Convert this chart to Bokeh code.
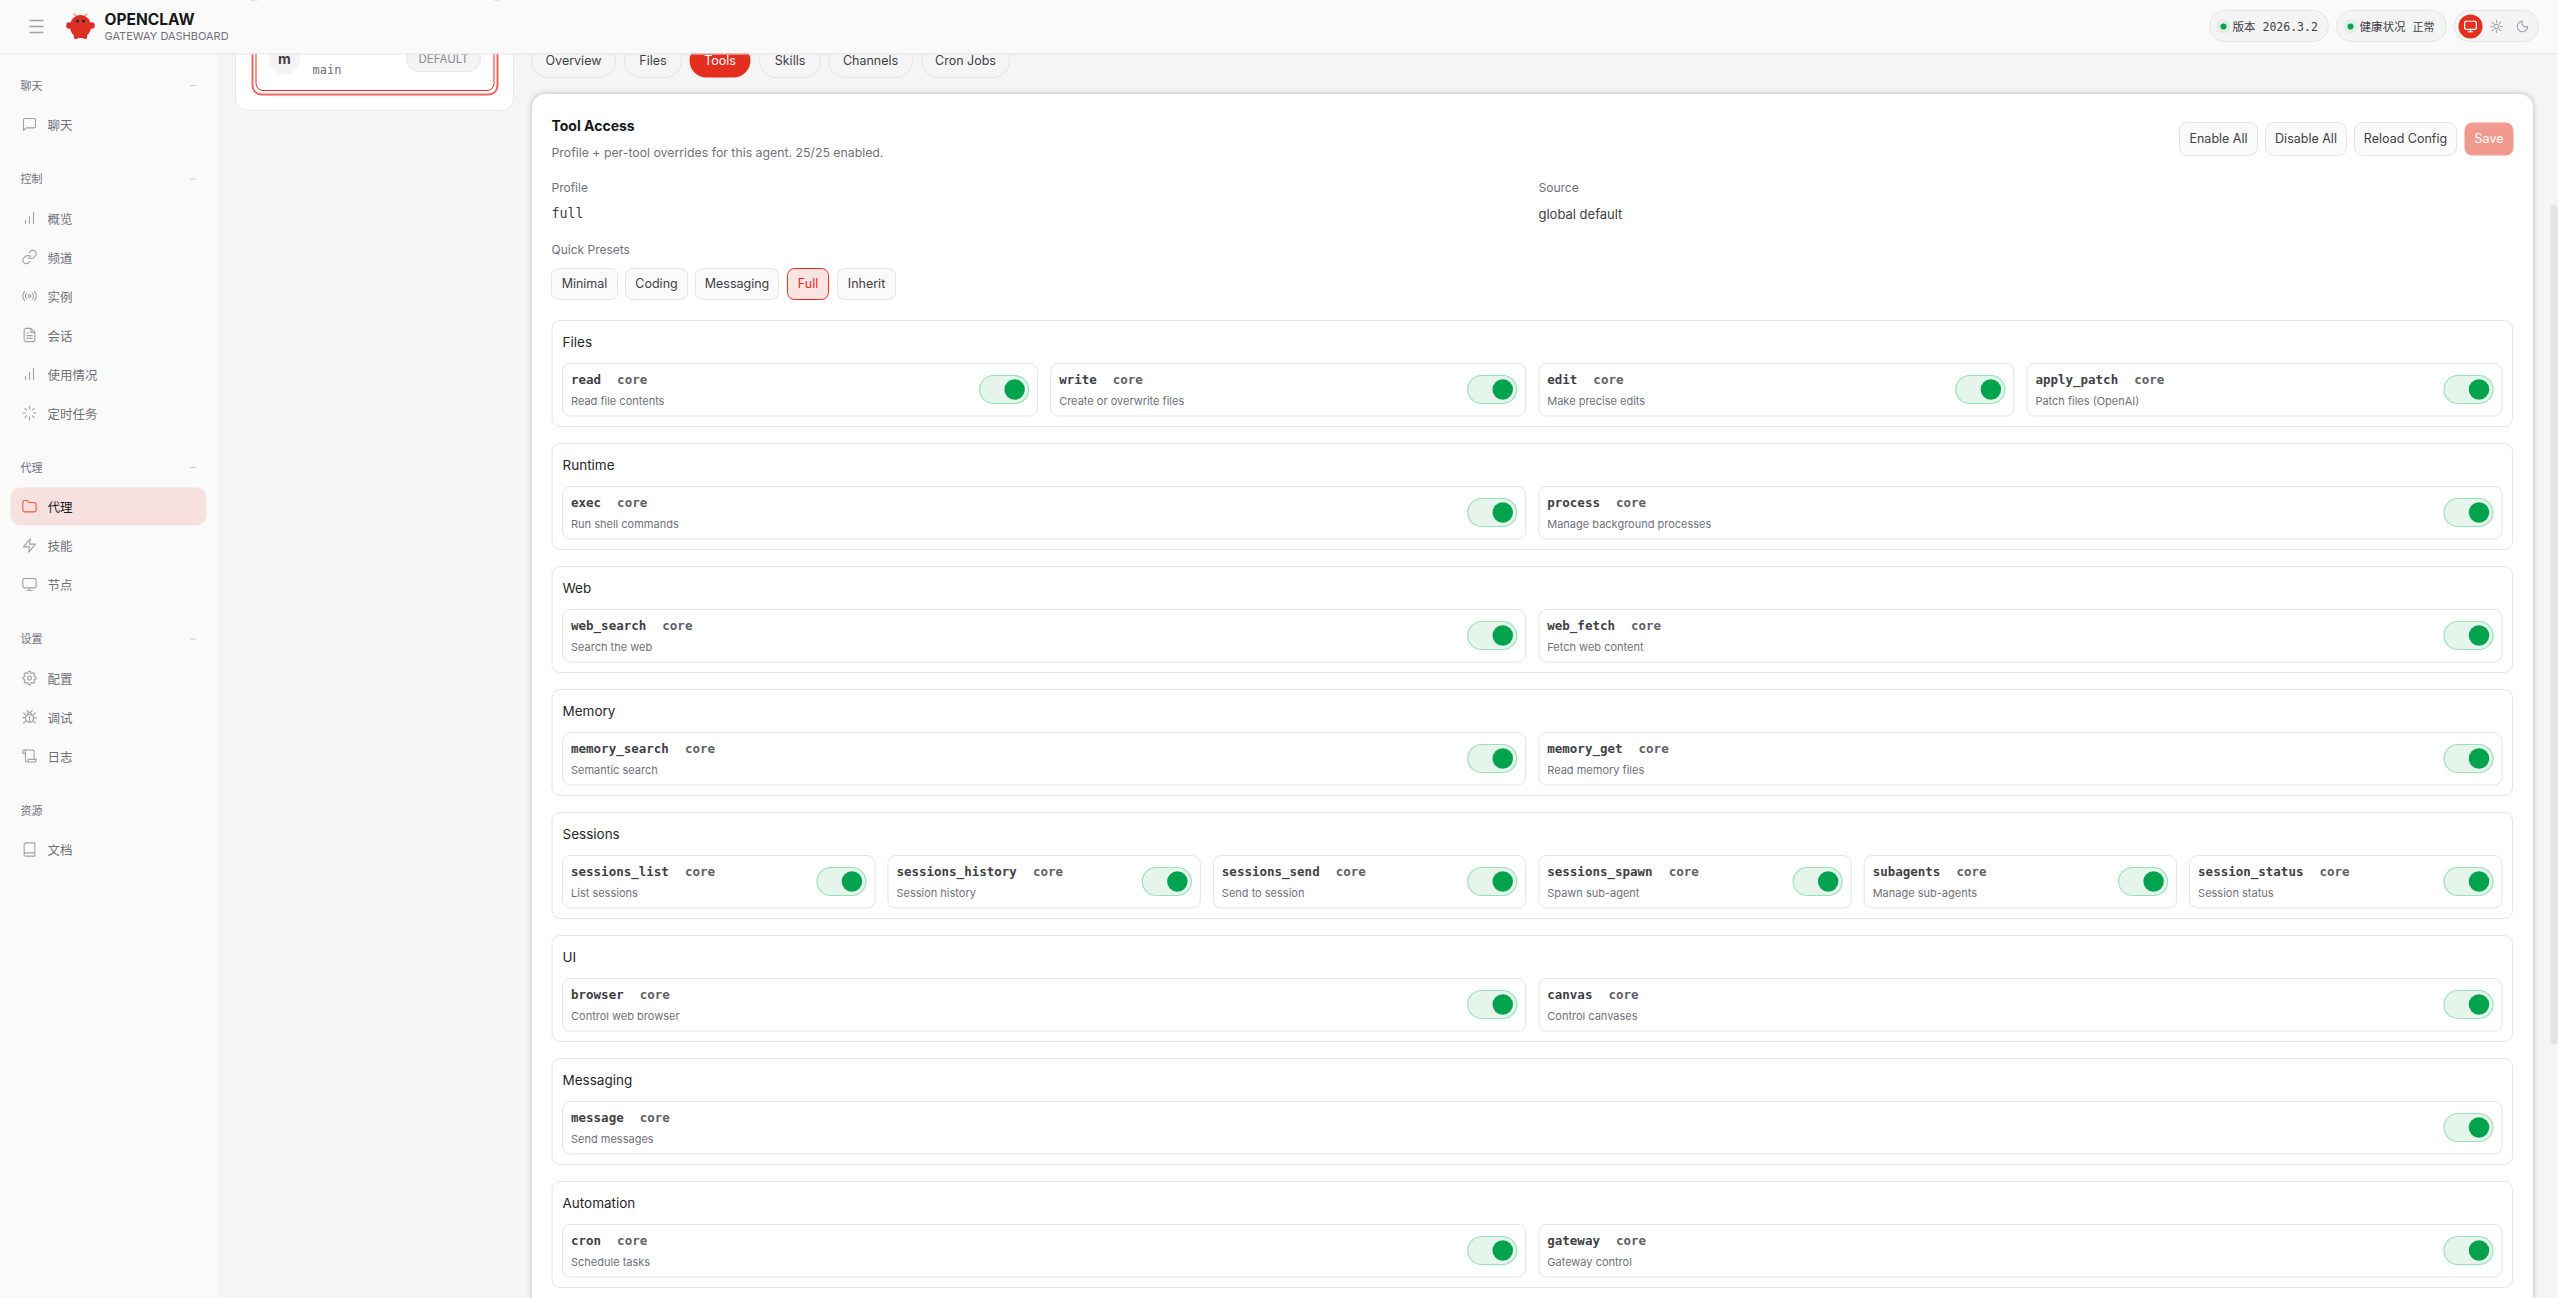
import math

from bokeh.embed import file_html
from bokeh.models import Range1d
from bokeh.plotting import figure
from bokeh.resources import INLINE

# texts of the page
NAV_TITLES = ["聊天", "控制", "代理", "设置", "资源"]
NAV_ITEMS = [["聊天"], ["概览", "频道", "实例", "会话", "使用情况", "定时任务"], ["代理", "技能", "节点"],
             ["配置", "调试", "日志"], ["文档"]]
NAV_ICONS = [["chat"], ["bars", "link", "radio", "file", "bars", "loader"], ["folder", "zap", "monitor"],
             ["gear", "bug", "scroll"], ["book"]]
TAB_LABELS = ["Overview", "Files", "Tools", "Skills", "Channels", "Cron Jobs"]
ACTION_LABELS = ["Enable All", "Disable All", "Reload Config", "Save"]
PRESET_LABELS = ["Minimal", "Coding", "Messaging", "Full", "Inherit"]
GROUP_TITLES = ["Files", "Runtime", "Web", "Memory", "Sessions", "UI", "Messaging", "Automation"]
TOOL_NAMES = [
    ["read", "write", "edit", "apply_patch"],
    ["exec", "process"],
    ["web_search", "web_fetch"],
    ["memory_search", "memory_get"],
    ["sessions_list", "sessions_history", "sessions_send", "sessions_spawn", "subagents", "session_status"],
    ["browser", "canvas"],
    ["message"],
    ["cron", "gateway"],
]
TOOL_DESCS = [
    ["Read file contents", "Create or overwrite files", "Make precise edits", "Patch files (OpenAI)"],
    ["Run shell commands", "Manage background processes"],
    ["Search the web", "Fetch web content"],
    ["Semantic search", "Read memory files"],
    ["List sessions", "Session history", "Send to session", "Spawn sub-agent", "Manage sub-agents", "Session status"],
    ["Control web browser", "Control canvases"],
    ["Send messages"],
    ["Schedule tasks", "Gateway control"],
]

# layout (px of the window) and styles
TAB_EDGES = [(531, 615), (624, 681), (689, 750), (759, 820), (828, 912), (921, 1009)]
ACTION_EDGES = [(2179, 2257), (2265, 2346), (2354, 2456), (2464, 2513)]
PRESET_EDGES = [(551, 617), (625, 687), (695, 778), (787, 828), (837, 895)]
RED = "#e42e1e"
GREEN = "#00a34d"
LINE = "#e4e4e7"
SANS = "Inter"
MONO = "DejaVu Sans Mono"
CJK = "Noto Sans CJK SC"

p = figure(width=2558, height=1298, x_range=Range1d(0, 2558), y_range=Range1d(1298, 0),
           output_backend="svg", toolbar_location=None, x_axis_location=None, y_axis_location=None,
           min_border=0, outline_line_color=None, background_fill_color="#f5f5f5", border_fill_color="#f5f5f5")
p.grid.visible = False


def box(l, t, r, b, fill, line=None, radius=0, alpha=1.0, lw=1.0):
    p.quad(left=[l], right=[r], top=[t], bottom=[b], fill_color=fill, fill_alpha=alpha,
           line_color=line, line_width=lw, border_radius=int(radius))


def label(x, y, s, size, color="#3f3f46", font=SANS, style="normal", align="left"):
    p.text(x=[x], y=[y], text=[s], text_font={"value": font}, text_font_size=f"{size}px", text_color=color,
           text_font_style=style, text_align=align, text_baseline="middle")


def arc(cx, cy, r, a0, a1, n=14):
    return [(cx + r * math.cos(math.radians(a0 + (a1 - a0) * i / n)),
             cy + r * math.sin(math.radians(a0 + (a1 - a0) * i / n))) for i in range(n + 1)]


def spokes(r0, r1, n=8):
    res = []
    for i in range(n):
        a = math.radians(i * 360 / n)
        res.append([(12 + r0 * math.cos(a), 12 + r0 * math.sin(a)), (12 + r1 * math.cos(a), 12 + r1 * math.sin(a))])
    return res


def cog():
    pts = []
    for i in range(8):
        a = i * 45
        pts += [(12 + 10 * math.cos(math.radians(a + d)), 12 + 10 * math.sin(math.radians(a + d))) for d in (-9, 9)]
        pts += [(12 + 7.6 * math.cos(math.radians(a + d)), 12 + 7.6 * math.sin(math.radians(a + d))) for d in (16, 29)]
    return pts + pts[:1]


# icons, drawn on a 24 unit box
ICONS = {
    "chat": [[(21, 15), (20.4, 16.4), (19, 17), (7, 17), (3, 21), (3, 5), (3.6, 3.6), (5, 3), (19, 3), (20.4, 3.6), (21, 5), (21, 15)]],
    "bars": [[(6, 20), (6, 16)], [(12, 20), (12, 10)], [(18, 20), (18, 4)]],
    "link": [arc(17, 7, 5, 225, 405) + [(17.5, 13.5), (14, 14.3), (10, 13)], [(13.5, 3.5), (11.75, 5.2)],
             arc(7, 17, 5, 45, 225) + [(6.5, 10.5), (10, 9.7), (14, 11)], [(10.5, 20.5), (12.2, 18.8)]],
    "radio": [arc(12, 12, 2, 0, 360), arc(12, 12, 6, -45, 45), arc(12, 12, 6, 135, 225),
              arc(12, 12, 10, -45, 45), arc(12, 12, 10, 135, 225)],
    "file": [[(14, 2), (6, 2), (4, 4), (4, 20), (6, 22), (18, 22), (20, 20), (20, 8), (14, 2)], [(14, 2), (14, 8), (20, 8)],
             [(8, 13), (16, 13)], [(8, 17), (16, 17)], [(8, 9), (10, 9)]],
    "loader": spokes(6, 10),
    "folder": [[(20, 20), (22, 18), (22, 8), (20, 6), (12.1, 6), (10.4, 5.1), (9.6, 3.9), (7.9, 3), (4, 3), (2, 5), (2, 18), (4, 20), (20, 20)]],
    "zap": [[(13, 2), (3, 14), (12, 14), (11, 22), (21, 10), (12, 10), (13, 2)]],
    "monitor": [[(4, 3), (20, 3), (22, 5), (22, 15), (20, 17), (4, 17), (2, 15), (2, 5), (4, 3)], [(8, 21), (16, 21)], [(12, 17), (12, 21)]],
    "gear": [cog(), arc(12, 12, 3, 0, 360)],
    "bug": [arc(12, 14, 6, 0, 360), [(8, 2), (9.9, 3.9)], [(16, 2), (14.1, 3.9)], arc(12, 8, 3, 180, 360), [(12, 20), (12, 11)],
            [(6, 13), (2, 13)], [(18, 13), (22, 13)], [(6.5, 9), (3, 6)], [(17.5, 9), (21, 6)], [(6.5, 18), (3, 21)], [(17.5, 18), (21, 21)]],
    "scroll": [[(8, 21), (20, 21), (22, 19), (22, 17), (10, 17), (10, 19)] + arc(8, 19, 2, 0, 180) + [(6, 5)] + arc(4, 5, 2, 0, -180) + [(2, 8), (6, 8)],
               [(19, 17), (19, 5), (17, 3), (4, 3)]],
    "book": [[(4, 19.5), (4, 4.5), (6.5, 2), (20, 2), (20, 22), (6.5, 22)] + arc(6.5, 19.5, 2.5, 90, 270) + [(20, 17)]],
    "sun": [arc(12, 12, 4, 0, 360)] + spokes(7, 10),
    "moon": [arc(12, 12, 9, 0, 270) + arc(18, 6, 6.7, 206.6, 63.4)],
}


def icon(name, cx, cy, size, color, lw=1.1):
    k = size / 24
    xs = [[cx + (a - 12) * k for a, _ in line] for line in ICONS[name]]
    ys = [[cy + (b - 12) * k for _, b in line] for line in ICONS[name]]
    p.multi_line(xs=xs, ys=ys, line_color=color, line_width=lw, line_join="round", line_cap="round")


def toggle(right, cy):
    box(right - 49, cy - 14, right, cy + 14, "#e5f5ec", "#97e2bc", 14, lw=1.2)
    p.ellipse(x=[right - 14], y=[cy], width=20.5, height=20.5, fill_color=GREEN, line_color=None)


# sidebar
box(0, 0, 218, 1300, "#fafafa")
y = 85
for title, items, icons in zip(NAV_TITLES, NAV_ITEMS, NAV_ICONS):
    label(20, y - 0.7, title, 11, "#71717a", CJK)
    if title != "资源":
        box(190, y - 0.5, 195, y + 0.5, "#c4c4c8")
    for item, ic in zip(items, icons):
        y += 39
        active = item == "代理"
        if active:
            box(10, y - 19, 206, y + 19, "#f6e1df", None, 10)
        icon(ic, 29, y, 16, "#ee5a4e" if active else "#a1a1aa", 1.1)
        label(47, y, item, 12.5, "#18181b" if active else "#71717a", CJK)
    y += 54.5

# agent card, its top is under the header
box(235, -30, 513, 110, "#ffffff", "#e8e8ea", 12)
box(252, -30, 497, 94, "#ffffff", "#f8625a", 9, lw=2)
box(255.5, -30, 493.5, 90, "#ffffff", RED, 7, lw=1)
p.ellipse(x=[284], y=[58], width=32, height=32, fill_color="#f4f4f5", line_color=None)
label(284, 58, "m", 14, "#3f3f46", SANS, "bold", "center")
label(312, 69, "main", 12, "#71717a", MONO)
box(406, 45, 480, 71, "#f4f4f5", LINE, 13)
label(443, 58, "DEFAULT", 11.5, "#8a8a92", SANS, "normal", "center")

# tabs
for name, (l, r) in zip(TAB_LABELS, TAB_EDGES):
    on = name == "Tools"
    box(l, 43, r, 77, RED if on else "#f5f5f5", None if on else LINE, 17)
    label((l + r) / 2, 59.5, name, 12.5, "#ffffff" if on else "#3f3f46", SANS, "normal", "center")

# main panel with a soft shadow
for grow, alpha in ((5, 0.03), (3, 0.05), (1.5, 0.08)):
    box(531 - grow, 93 - grow, 2533 + grow, 1340, "#71717a", None, 14 + grow, alpha)
box(531, 93, 2533, 1340, "#ffffff", "#dcdce0", 14)

label(551, 125, "Tool Access", 14, "#18181b", SANS, "bold")
label(551, 152, "Profile + per-tool overrides for this agent. 25/25 enabled.", 12.3, "#71717a")
label(551, 187, "Profile", 12, "#71717a")
label(551, 213, "full", 13.3, "#3f3f46", MONO)
label(1538, 187, "Source", 12, "#71717a")
label(1538, 213, "global default", 13, "#3f3f46")
label(551, 249, "Quick Presets", 12, "#71717a")

for name, (l, r) in zip(ACTION_LABELS, ACTION_EDGES):
    save = name == "Save"
    box(l, 122, r, 155, "#f19a90" if save else "#fafafa", None if save else LINE, 8)
    label((l + r) / 2, 137.5, name, 12.5, "#ffffff" if save else "#3f3f46", SANS, "normal", "center")

for name, (l, r) in zip(PRESET_LABELS, PRESET_EDGES):
    on = name == "Full"
    box(l, 268, r, 299, "#fbe4e2" if on else "#fafafa", RED if on else LINE, 7)
    label((l + r) / 2, 283, name, 12.5, RED if on else "#3f3f46", SANS, "normal", "center")

# tool groups
GROUP_L, GROUP_R, GROUP_TOP, GROUP_PITCH, GAP = 551.5, 2512, 320, 123, 13
for g, (title, names, descs) in enumerate(zip(GROUP_TITLES, TOOL_NAMES, TOOL_DESCS)):
    top = GROUP_TOP + g * GROUP_PITCH
    box(GROUP_L, top, GROUP_R, top + 106, "#ffffff", LINE, 8)
    label(562, top + 21, title, 13.5, "#27272a")
    inner = GROUP_R - GROUP_L - 21
    w = (inner - (len(names) - 1) * GAP) / len(names)
    for i, (name, desc) in enumerate(zip(names, descs)):
        l = 562 + i * (w + GAP)
        box(l, top + 43, l + w, top + 95.5, "#ffffff", LINE, 8)
        label(l + 8.5, top + 59, name, 12.5, "#3f3f46", MONO, "bold")
        label(l + 8.5 + len(name) * 7.53 + 16, top + 59, "core", 12.5, "#5f5f68", MONO, "bold")
        label(l + 8.5, top + 80, desc, 11, "#71717a")
        toggle(l + w - 9, top + 69)

# scrollbar
box(2550, 204, 2557, 1044, LINE, None, 4)

# header
box(0, 0, 2558, 53, "#fafafa")
box(0, 53, 2558, 54, LINE)
for yy in (20, 26, 32):
    box(29, yy - 0.7, 43, yy + 0.7, "#a1a1aa")

# logo
p.multi_line(xs=[[76, 73], [84, 87]], ys=[[16, 13], [16, 13]], line_color="#f0928a", line_width=1.2)
p.ellipse(x=[68.5, 91.5], y=[25, 25], width=5.5, height=6.5, fill_color="#d92c22", line_color=None)
p.ellipse(x=[75.5, 84.5], y=[36.5, 36.5], width=4.5, height=4, fill_color="#c9281f", line_color=None)
p.ellipse(x=[80], y=[26], width=21, height=23, fill_color="#de2f25", line_color=None)
p.ellipse(x=[77, 83], y=[20.5, 20.5], width=3, height=3, fill_color="#1b2a2c", line_color=None)
label(104, 19, "OPENCLAW", 15.5, "#18181b", SANS, "bold")
label(104, 35, "GATEWAY DASHBOARD", 11, "#71717a")

# version, health and theme pills
box(2209, 10, 2328, 41, "#f4f4f5", LINE, 15)
box(2336, 10, 2446, 41, "#f4f4f5", LINE, 15)
box(2454, 10, 2538, 41, "#f4f4f5", LINE, 15)
for dot in (2223, 2350):
    p.ellipse(x=[dot], y=[26], width=14, height=14, fill_color=GREEN, fill_alpha=0.08, line_color=None)
    p.ellipse(x=[dot], y=[26], width=6, height=6, fill_color=GREEN, line_color=None)
label(2232, 25.5, "版本", 11.5, "#3f3f46", CJK)
label(2262, 26, "2026.3.2", 11.5, "#3f3f46", MONO)
label(2359, 25.5, "健康状况", 11.5, "#3f3f46", CJK)
label(2412, 25.5, "正常", 11, "#3f3f46", CJK)
p.ellipse(x=[2470], y=[26], width=24, height=24, fill_color=RED, line_color=None)
icon("monitor", 2470, 26, 14, "#ffffff", 1.2)
icon("sun", 2496, 26, 14, "#a1a1aa", 1.1)
icon("moon", 2522, 26, 14, "#a1a1aa", 1.1)

open("out.html", "w").write(file_html(p, INLINE))
